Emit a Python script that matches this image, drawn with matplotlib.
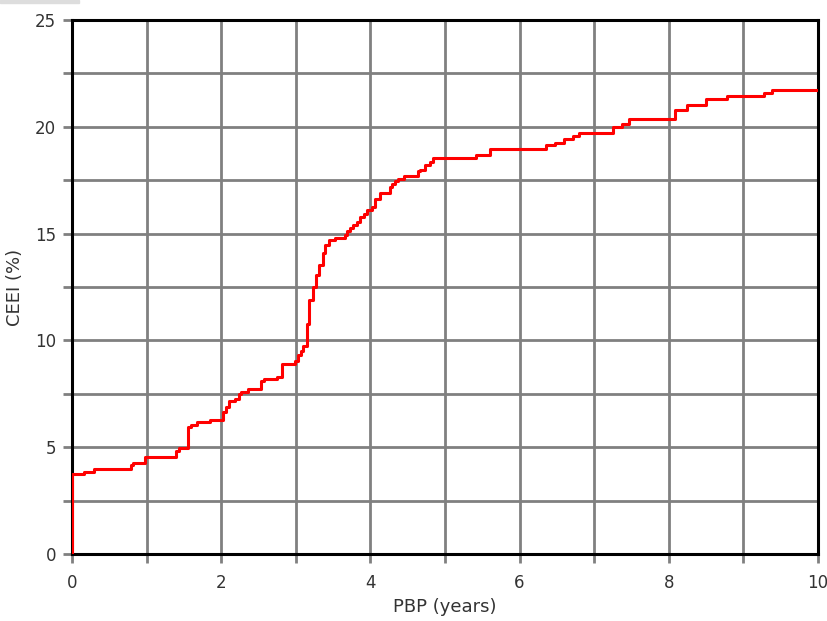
import matplotlib
matplotlib.use('Agg')
from matplotlib import pyplot as plt
from matplotlib.patches import Rectangle
from matplotlib.ticker import MultipleLocator

# cumulative curve (step, value holds until next x)
pbp = [0.00, 0.00, 0.16, 0.29, 0.79, 0.82, 0.98, 1.40, 1.43, 1.56, 1.60,
       1.67, 1.85, 2.03, 2.06, 2.11, 2.18, 2.24, 2.27, 2.36, 2.54, 2.57,
       2.75, 2.82, 2.99, 3.03, 3.07, 3.10, 3.15, 3.18, 3.23, 3.27, 3.31,
       3.36, 3.39, 3.44, 3.53, 3.66, 3.68, 3.73, 3.77, 3.82, 3.86, 3.91,
       3.96, 4.02, 4.06, 4.13, 4.26, 4.29, 4.33, 4.37, 4.45, 4.64, 4.67,
       4.73, 4.80, 4.84, 5.41, 5.60, 6.36, 6.47, 6.60, 6.72, 6.80, 7.25,
       7.37, 7.47, 8.08, 8.24, 8.50, 8.78, 9.28, 9.38, 10.0]
ceei = [0.00, 3.75, 3.85, 3.97, 4.16, 4.28, 4.56, 4.83, 4.96, 5.94, 6.04,
        6.18, 6.28, 6.63, 6.86, 7.14, 7.25, 7.49, 7.60, 7.72, 8.08, 8.17,
        8.30, 8.88, 9.02, 9.30, 9.49, 9.76, 10.77, 11.87, 12.52, 13.07, 13.54,
        14.09, 14.45, 14.68, 14.79, 14.92, 15.10, 15.28, 15.38, 15.54, 15.78, 15.93,
        16.09, 16.24, 16.63, 16.90, 17.18, 17.31, 17.45, 17.57, 17.70, 17.92, 18.00,
        18.20, 18.35, 18.56, 18.67, 18.95, 19.14, 19.26, 19.42, 19.57, 19.71, 19.97,
        20.14, 20.38, 20.80, 21.01, 21.28, 21.43, 21.58, 21.72, 21.72]

x_labels = [0, 2, 4, 6, 8, 10]
y_labels = [0, 5, 10, 15, 20, 25]


def plot():
    fig = plt.figure(figsize=(8.27, 6.21), dpi=100)
    ax = fig.add_axes([72 / 827, 1 - 554 / 621, 746 / 827, 534 / 621])

    # thin light strip in the top left corner of the original image
    fig.patches.append(Rectangle((0, 1 - 3 / 621), 79 / 827, 3 / 621,
                                 transform=fig.transFigure, color='#dddddd',
                                 zorder=0))

    ax.step(pbp, ceei, where='post', c='#ff0000', lw=2.2, zorder=5)

    ax.set_xlim(0, 10)
    ax.set_ylim(0, 25)
    ax.set_xticks(x_labels)
    ax.set_yticks(y_labels)
    ax.xaxis.set_minor_locator(MultipleLocator(1))
    ax.yaxis.set_minor_locator(MultipleLocator(2.5))

    ax.grid(True, which='both', c='#808080', lw=2.0)
    ax.set_axisbelow(True)

    for s in ax.spines.values():
        s.set_color('black')
        s.set_linewidth(2.2)
        s.set_zorder(4)

    ax.tick_params(which='both', direction='out', color='#808080', width=2.0,
                   length=6.5, labelsize=12, labelcolor='#333333')
    ax.tick_params(axis='x', which='both', pad=8)
    ax.tick_params(axis='y', which='both', pad=5)

    ax.set_xlabel('PBP (years)', fontsize=13, color='#333333', labelpad=4)
    ax.set_ylabel('CEEI (%)', fontsize=13, color='#333333', labelpad=8)

    plt.savefig('out.png', dpi=100)
    plt.close()


if __name__ == '__main__':
    plot()
